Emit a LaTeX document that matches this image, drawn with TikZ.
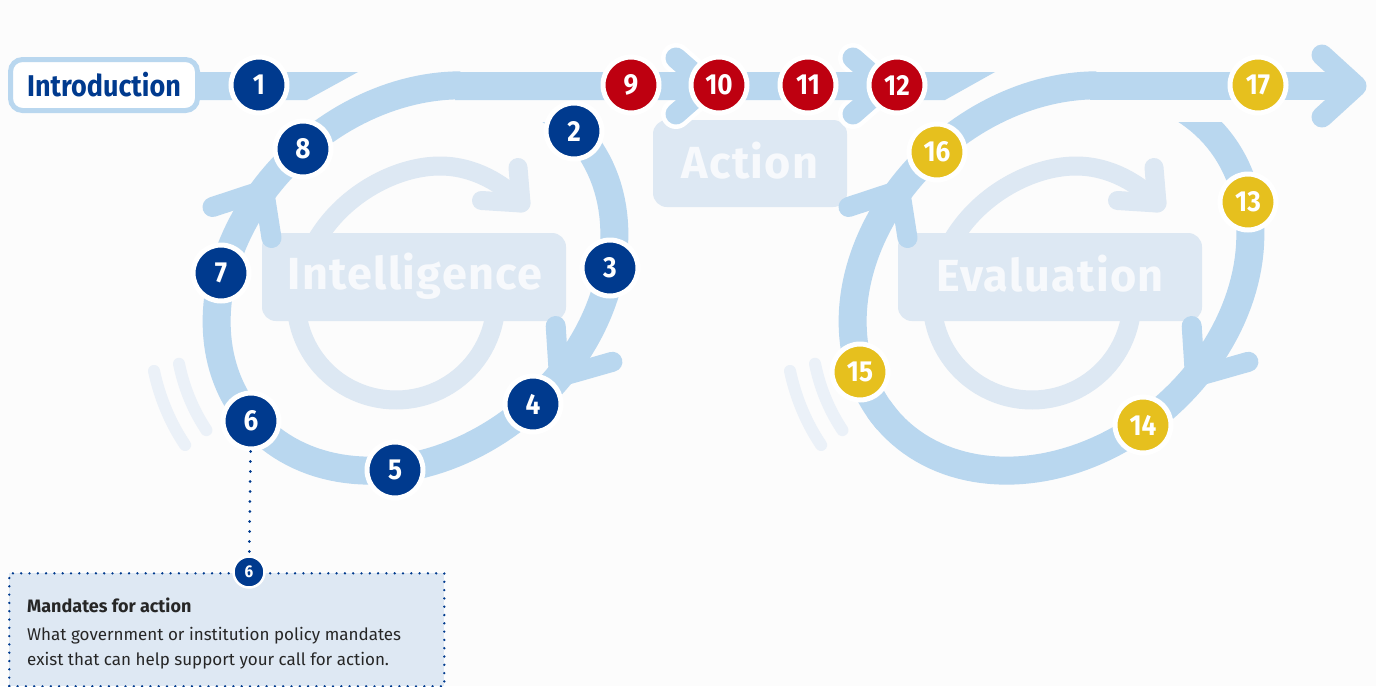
\documentclass[tikz,border=0pt]{standalone}
\usepackage{fontspec}
\setmainfont{Fira Sans}
\newfontfamily\numfont[FakeStretch=0.9]{Fira Sans}
\newfontfamily\lblfont[LetterSpace=3]{Fira Sans}
\usetikzlibrary{calc}
\definecolor{bg}{HTML}{FCFCFC}
\definecolor{bandblue}{HTML}{B9D7EF}
\definecolor{faint}{HTML}{DDE8F3}
\definecolor{fade}{HTML}{EBF1F8}
\definecolor{navy}{HTML}{003A8E}
\definecolor{redn}{HTML}{BE0010}
\definecolor{yel}{HTML}{E6C01E}
\definecolor{infofill}{HTML}{DEE8F3}
\definecolor{boxtext}{HTML}{F7F9FC}
\newcommand\rx[3]{415.5+0.7547*(217+#2)*cos(#1)+0.6561*(172+#3)*sin(#1)}
\newcommand\ry[3]{278-0.6561*(217+#2)*cos(#1)+0.7547*(172+#3)*sin(#1)}
\tikzset{
  ring/.style={draw=bandblue, line width=28pt},
  ringchev/.style={draw=bandblue, line width=20pt, line cap=round, line join=round},
  chevb/.style={draw=bandblue, line width=21pt, line cap=round, line join=round},
  chevw/.style={draw=white, line width=30pt, line cap=round, line join=round},
  innerring/.style={draw=faint, line width=19pt, line cap=round, line join=round},
  fadearc/.style={draw=fade, line width=12pt, line cap=round},
  lbox/.style={fill=faint, rounded corners=14pt, inner sep=0pt},
  lbltext/.style={text=boxtext, inner sep=0pt, anchor=base, font=\lblfont\bfseries\fontsize{45}{45}\selectfont},
  num/.style={circle, minimum size=56pt, inner sep=0pt, draw=white, line width=5pt, text=white, font=\numfont\bfseries\fontsize{29}{29}\selectfont},
  nb/.style={num, fill=navy},
  nr/.style={num, fill=redn},
  ny/.style={num, fill=yel},
  dotline/.style={draw=navy, line width=3pt, line cap=round, dash pattern=on 0pt off 10pt},
  dotbord/.style={draw=navy, line width=2.6pt, line cap=round, dash pattern=on 0pt off 8.3pt},
}
\newcommand\loopback{%
  \draw[fadearc] plot[domain=186:205, samples=20, variable=\t] ({\rx{\t}{68}{68}},{\ry{\t}{68}{68}});
  \draw[fadearc] plot[domain=186:205, samples=20, variable=\t] ({\rx{\t}{42}{42}},{\ry{\t}{42}{42}});
  \draw[innerring] plot[domain=5:178, samples=50, variable=\t] ({396+100*cos(\t)},{300+100*sin(\t)})
     .. controls (296,280) and (307,254) .. (321,233)
     .. controls (350,190) and (400,166) .. (440,166)
     .. controls (475,166) and (505,185) .. (521,203);
  \draw[innerring] (518,167.5) -- (521,203) -- (481.5,200.5);
}
\newcommand\loopring{%
  \begin{scope}
    \clip (0,122) rectangle (1376,700);
    \draw[ring] plot[domain=-14:185, samples=90, variable=\t] ({\rx{\t}{0}{0}},{\ry{\t}{0}{0}});
  \end{scope}
  \draw[ring] plot[domain=180:317.65, samples=70, variable=\t] ({\rx{\t}{0}{0}},{\ry{\t}{0}{0}});
  \draw[ringchev] (212.5,207) -- (264,190) -- (271.5,238);
  \draw[ringchev] (555.7,326) -- (559,377) -- (612.4,361.8);
}
\begin{document}
\begin{tikzpicture}[x=1pt,y=-1pt]
\useasboundingbox (0,0) rectangle (1376,686);
\fill[bg] (0,0) rectangle (1376,686);
% faint background shapes
\loopback
\begin{scope}[xshift=636pt]\loopback\end{scope}
\node[lbox, minimum width=304pt, minimum height=88pt] (intelbox) at (414,277) {};
\node[lbox, minimum width=194pt, minimum height=87pt] (actbox) at (750,163.5) {};
\node[lbox, minimum width=304pt, minimum height=88pt] (evalbox) at (1050,277) {};
\node[lbltext] (inteltxt) at (415,289) {Intelligence};
\node[lbltext] (acttxt) at (750,178) {Action};
\node[lbltext] (evaltxt) at (1050,291) {Evaluation};
% white casings of the action chevrons
\draw[chevw] (676,58) -- (708,86) -- (676,114);
\draw[chevw] (853,58) -- (885,86) -- (853,114);
% bands
\fill[bandblue] (190,72) -- (358,72) -- (307,100) -- (190,100) -- cycle;
\fill[bandblue] (455,72) -- (995,72) -- (945,100) -- (455,100) -- cycle;
\fill[bandblue] (1090,72) -- (1345,72) -- (1345,100) -- (1090,100) -- cycle;
\loopring
\begin{scope}[xshift=636pt]\loopring\end{scope}
\draw[chevb] (676,58) -- (708,86) -- (676,114);
\draw[chevb] (853,58) -- (885,86) -- (853,114);
\draw[chevb] (1322,55) -- (1356,86) -- (1322,117);
% numbered nodes
\node[nb] (n1) at (259,85) {1};
\node[nb] (n2) at (574,131) {2};
\node[nb] (n3) at (610,268) {3};
\node[nb] (n4) at (533,404) {4};
\node[nb] (n5) at (395,470) {5};
\node[nb] (n6) at (251,421) {6};
\node[nb] (n7) at (221,273) {7};
\node[nb] (n8) at (303,149) {8};
\node[nr] (n9) at (631,85) {9};
\node[nr] (n10) at (719,85) {10};
\node[nr] (n11) at (808,85) {11};
\node[nr] (n12) at (897,85) {12};
\node[ny] (n13) at (1248,202) {13};
\node[ny] (n14) at (1143,425) {14};
\node[ny] (n15) at (860,372) {15};
\node[ny] (n16) at (937,152) {16};
\node[ny] (n17) at (1258,85) {17};
% introduction
\node[draw=bandblue, line width=5pt, fill=white, rounded corners=12pt, minimum width=187pt, minimum height=51pt, inner sep=0pt, text=navy, font=\numfont\bfseries\fontsize{30}{30}\selectfont] (intro) at (104,85) {Introduction};
% info box
\node[fill=infofill, dotbord, minimum width=435pt, minimum height=113pt, anchor=north west, inner sep=0pt] (info) at (8,572) {};
\node[circle, fill=navy, draw=white, line width=2.5pt, minimum size=31pt, inner sep=0pt, text=white, font=\numfont\bfseries\fontsize{17}{17}\selectfont] (s6) at (249,572) {6};
\draw[dotline] (n6) -- (s6);
\node[anchor=base west, inner sep=0pt, text=black!85, font=\bfseries\fontsize{18}{18}\selectfont] (infotitle) at (27,612) {Mandates for action};
\node[anchor=base west, inner sep=0pt, text=black!85, font=\fontsize{17}{17}\selectfont] (infol1) at (27,640) {What government or institution policy mandates};
\node[anchor=base west, inner sep=0pt, text=black!85, font=\fontsize{17}{17}\selectfont] (infol2) at (27,665) {exist that can help support your call for action.};
\end{tikzpicture}
\end{document}
